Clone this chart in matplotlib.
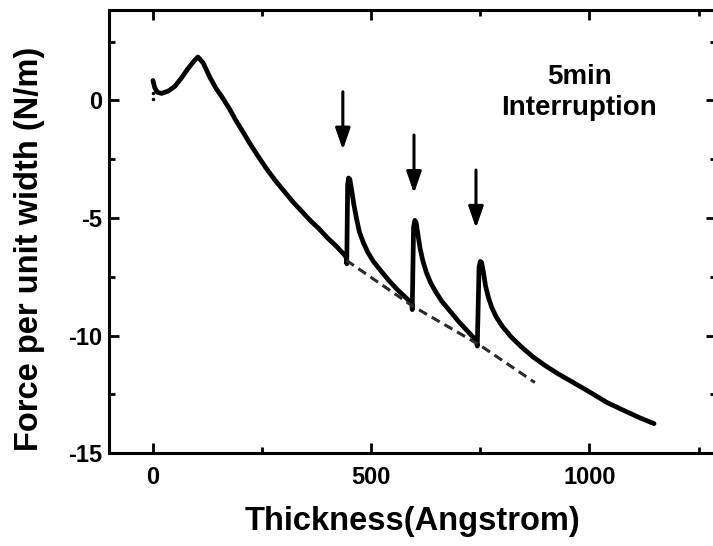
import matplotlib.pyplot as plt
from matplotlib.ticker import MultipleLocator

plt.rcParams['font.family'] = ['Liberation Sans', 'DejaVu Sans']
plt.rcParams['font.weight'] = 'bold'
plt.rcParams['axes.unicode_minus'] = False

# measured stress curve (thickness in Angstrom, force in N/m)
thickness = [0, 4, 10, 20, 35, 50, 65, 80, 95, 103,
             115, 130, 145, 160, 175, 190, 205, 221, 240, 260, 280, 300, 320,
             340, 360, 380, 400, 420, 440, 443,
             444, 446, 448, 451, 455, 460, 466, 473, 482, 492, 505, 520, 540,
             560, 580, 593,
             594, 597, 600, 603, 607, 612, 618, 626, 636, 648, 662, 680, 700,
             720, 740,
             743, 747, 750, 753, 757, 762, 768, 776, 786, 800, 820, 845, 870,
             900, 930, 960, 1000, 1040, 1080, 1115, 1148]
force = [0.85, 0.55, 0.35, 0.3, 0.4, 0.6, 0.95, 1.35, 1.7, 1.85,
         1.6, 1.0, 0.5, 0.1, -0.35, -0.85, -1.3, -1.8, -2.35, -2.9, -3.4, -3.85,
         -4.3, -4.7, -5.1, -5.45, -5.85, -6.2, -6.6, -6.7,
         -6.95, -3.6, -3.3, -3.35, -3.8, -4.4, -5.0, -5.6, -6.05, -6.45, -6.85,
         -7.2, -7.65, -8.05, -8.4, -8.65,
         -8.9, -5.4, -5.1, -5.2, -5.7, -6.3, -6.8, -7.3, -7.75, -8.15, -8.55,
         -8.95, -9.4, -9.8, -10.2,
         -10.45, -7.1, -6.85, -6.9, -7.3, -7.9, -8.35, -8.8, -9.2, -9.6, -10.05,
         -10.5, -10.9, -11.3, -11.65, -11.97, -12.4, -12.85, -13.2, -13.5, -13.75]

# stray points at the start
dots_x = [0, 0]
dots_y = [0.3, 0.05]

# extrapolated curve without interruption
dash_x = [443, 595, 748, 875]
dash_y = [-6.8, -8.75, -10.4, -12.0]

# interruption arrows: x, top, tip
arrow_x = [435, 598, 740]
arrow_top = [0.37, -1.47, -2.96]
arrow_tip = [-2.1, -3.95, -5.43]

fig = plt.figure(figsize=(7.13, 5.46), dpi=100)
ax = fig.add_axes([0.1533, 0.1703, 0.851, 0.8114])

ax.plot(thickness, force, color='black', linewidth=3.4,
        solid_capstyle='round', solid_joinstyle='round')
ax.plot(dots_x, dots_y, 'k.', markersize=3)
ax.plot(dash_x, dash_y, color='#2a2a2a', linewidth=2.2, linestyle=(0, (3, 1.8)))

for x, y0, y1 in zip(arrow_x, arrow_top, arrow_tip):
    ax.annotate('', xy=(x, y1), xytext=(x, y0),
                arrowprops=dict(arrowstyle='-|>,head_width=0.45,head_length=1.3',
                                color='black', lw=2.2, shrinkA=0, shrinkB=0))

ax.text(977, 0.36, '5min\nInterruption', ha='center', va='center',
        fontsize=20, linespacing=1.25)

ax.set_xlim(-100, 1290)
ax.set_ylim(-15, 3.85)
ax.xaxis.set_major_locator(MultipleLocator(500))
ax.xaxis.set_minor_locator(MultipleLocator(250))
ax.yaxis.set_major_locator(MultipleLocator(5))
ax.yaxis.set_minor_locator(MultipleLocator(2.5))
ax.tick_params(which='both', direction='in', top=True, right=True, width=2)
ax.tick_params(which='major', length=7, labelsize=17)
ax.tick_params(axis='x', which='major', pad=9)
ax.tick_params(axis='y', which='major', pad=5)
ax.tick_params(which='minor', length=4)
for s in ax.spines.values():
    s.set_linewidth(2.2)

fig.text(0.5786, 0.0293, 'Thickness(Angstrom)', ha='center', va='baseline',
         fontsize=23.5)
fig.text(0.042, 0.544, 'Force per unit width (N/m)', ha='center', va='center',
         rotation=90, fontsize=23.5)

fig.savefig('out.png', dpi=100)
